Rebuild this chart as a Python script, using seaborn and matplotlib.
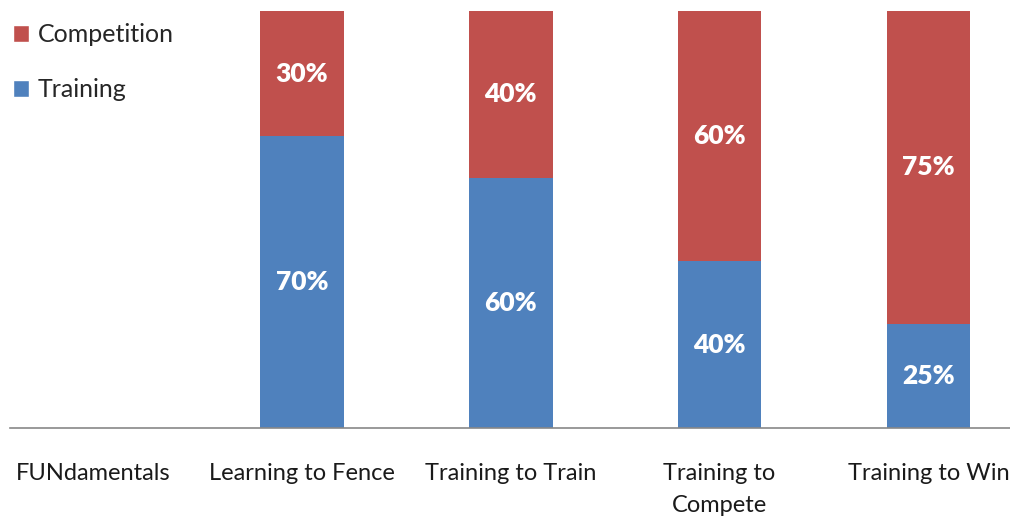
import matplotlib
matplotlib.use("Agg")
import matplotlib.pyplot as plt
import seaborn as sns
import pandas as pd
import numpy as np
from matplotlib.patches import Patch

categories = ["FUNdamentals", "Learning to Fence", "Training to Train",
              "Training to\nCompete", "Training to Win"]
training = [0, 70, 60, 40, 25]
competition = [0, 30, 40, 60, 75]

sns.set_theme(style="white")
plt.rcParams['font.family'] = ['Lato', 'DejaVu Sans']

RED = "#C0504D"
BLUE = "#4F81BD"

df = pd.DataFrame({"cat": categories, "training": training,
                   "competition": competition})
df["total"] = df["training"] + df["competition"]

fig = plt.figure(figsize=(10.10, 5.18), dpi=100)
ax = fig.add_axes([10/1010, (518-428)/518, 1000/1010, 417/518])

sns.barplot(data=df, x="cat", y="total", color=RED, saturation=1,
            width=0.4, ax=ax, order=categories, linewidth=0)
sns.barplot(data=df, x="cat", y="training", color=BLUE, saturation=1,
            width=0.4, ax=ax, order=categories, linewidth=0)

for i, (t, c) in enumerate(zip(training, competition)):
    if t > 0:
        ax.text(i, t / 2, f"{t}%", ha="center", va="center", color="white",
                fontsize=19, fontweight="heavy")
    if c > 0:
        ax.text(i, t + c / 2, f"{c}%", ha="center", va="center", color="white",
                fontsize=19, fontweight="heavy")

ax.set_xlim(-0.3985, 4.391)
ax.set_ylim(0, 100)
ax.set_xlabel("")
ax.set_ylabel("")
ax.set_yticks([])
ax.tick_params(axis="x", length=0, pad=25, labelsize=17, colors="#1a1a1a")
for s in ["top", "right", "left"]:
    ax.spines[s].set_visible(False)
ax.spines["bottom"].set_color("#888888")
ax.spines["bottom"].set_linewidth(1.2)
for lab in ax.get_xticklabels():
    lab.set_verticalalignment("top")
    lab.set_linespacing(1.65)

handles = [Patch(facecolor=RED, label="Competition"),
           Patch(facecolor=BLUE, label="Training")]
fig.legend(handles=handles, loc="upper left", bbox_to_anchor=(-0.002, 0.984),
           frameon=False, fontsize=18, handlelength=0.65, handleheight=0.65,
           labelspacing=1.28, handletextpad=0.35, borderaxespad=0.25,
           borderpad=0.35)

fig.savefig("out.png", dpi=100)
